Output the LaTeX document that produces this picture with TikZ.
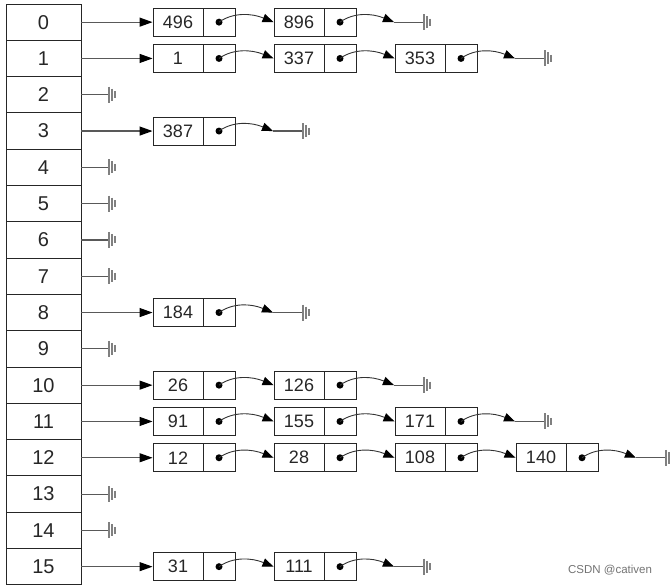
\documentclass[tikz,border=0pt]{standalone}
\usepackage{fontspec}
\setmainfont{Liberation Sans}
\usetikzlibrary{arrows.meta,calc}
\begin{document}
\begin{tikzpicture}[x=1pt,y=-1pt,line width=0.9pt,
  tcell/.style={draw=black!85,minimum width=75pt,minimum height=36.3pt,inner sep=0pt,text=black!85,font=\fontsize{20}{22}\selectfont},
  vcell/.style={draw=black!85,minimum width=50pt,minimum height=28pt,inner sep=0pt,text=black!85,font=\fontsize{18}{20}\selectfont},
  pcell/.style={draw=black!85,minimum width=32pt,minimum height=28pt,inner sep=0pt},
  head/.style={draw=black!65,line width=1.1pt,-{Triangle[length=13pt,width=9pt,color=black]}},
  link/.style={draw=black!80,-{Triangle[length=11pt,width=8.5pt,color=black]}},
  wire/.style={draw=black!65,line width=1.1pt},
  gnd/.pic={\draw[black!50,line width=1.2pt] (0,-8)--(0,8) (3,-6)--(3,6) (6,-3.5)--(6,3.5);}]
\useasboundingbox (0,0) rectangle (671,585);
% table
\foreach \r in {0,...,15}{
  \pgfmathsetmacro\yc{4+36.3*(\r+0.5)}
  \node[tcell] (t\r) at (43.5,\yc) {\r};
}
% empty rows
\foreach \r in {2,4,5,6,7,9,13,14}{
  \pgfmathsetmacro\yc{4+36.3*(\r+0.5)}
  \coordinate (g\r) at (109,\yc);
  \draw[wire] (t\r.east) -- (g\r);
  \pic at (g\r) {gnd};
}
% lists
\foreach \r/\vals in {0/{496,896},1/{1,337,353},3/{387},8/{184},10/{26,126},11/{91,155,171},12/{12,28,108,140},15/{31,111}}{
  \pgfmathsetmacro\yc{4+36.3*(\r+0.5)}
  \pgfmathtruncatemacro\n{dim({\vals})}
  \foreach \v [count=\i] in \vals {
    \pgfmathsetmacro\xl{153+121*(\i-1)}
    \node[vcell] (v\r-\i) at (\xl+25,\yc) {\v};
    \node[pcell] (p\r-\i) at (\xl+66,\yc) {};
    \fill[black] (p\r-\i.center) circle (3.5pt);
    \ifnum\i=1
      \draw[head] (t\r.east) -- (v\r-\i.west);
    \else
      \pgfmathtruncatemacro\pr{\i-1}
      \draw[link] (p\r-\pr.center) .. controls +(14,-10) and +(-22,-9) .. (v\r-\i.west);
    \fi
  }
  \coordinate (e\r) at ($(p\r-\n.center)+(54,0)$);
  \coordinate (g\r) at ($(p\r-\n.center)+(84,0)$);
  \draw[link] (p\r-\n.center) .. controls +(14,-10) and +(-22,-9) .. (e\r);
  \draw[wire] (e\r) -- (g\r);
  \pic at (g\r) {gnd};
}
\node[text=black!55,font=\fontsize{11.5}{13}\selectfont] (wm) at (610,570) {CSDN @cativen};
\end{tikzpicture}
\end{document}
